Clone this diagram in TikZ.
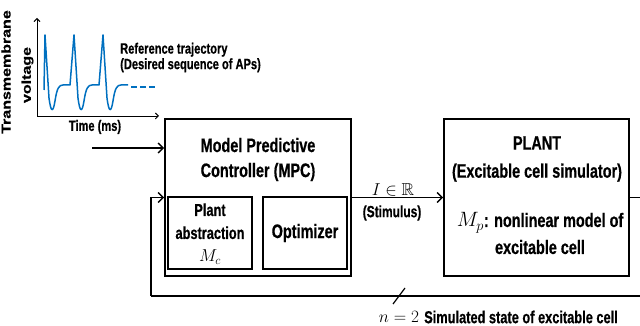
\documentclass[tikz,border=0pt]{standalone}
\usepackage{amsmath}
\usepackage{amssymb}
\usepackage{fontspec}
\setmainfont{Liberation Sans}[FakeStretch=0.74, BoldFeatures={FakeBold=0.6}]
\newfontfamily\axisfont{Liberation Sans}[BoldFeatures={FakeBold=0.6}]
\usetikzlibrary{arrows.meta}

\definecolor{trajblue}{RGB}{0,112,192}

\tikzset{
    blockbox/.style = {draw, line width=1.6pt, inner sep=0pt},
    conn/.style = {line width=1.5pt, -{Straight Barb[length=5pt,width=10pt,line width=1.4pt]}},
    fbline/.style = {line width=1.5pt},
    axisline/.style = {line width=0.9pt, -{Straight Barb[length=3pt,width=6pt,line width=0.9pt]}},
    wave/.style = {trajblue, line width=1.5pt, line join=round},
    lbl/.style = {inner sep=0pt, align=center, font=\fontsize{#1}{#1}\selectfont\bfseries},
    lbl/.default = 17.3
}

\begin{document}
\begin{tikzpicture}[x=1pt, y=1pt]
    \path[use as bounding box] (0,0) rectangle (640,326);
    \clip (0,0) rectangle (640,326);

    % reference trajectory plot
    \coordinate (origin) at (37,210);
    \draw[axisline] (origin) -- (37,308);
    \draw[axisline] (origin) -- (159,210);
    \draw[wave] (44,236) foreach \s in {44,73,102} {
            -- (\s+1,291) -- (\s+5,228)
            .. controls (\s+7,213) and (\s+9,213) .. (\s+11,225)
            .. controls (\s+13,238) and (\s+15,241) .. (\s+19,241)
            -- (\s+26,241)};
    \draw[wave, dash pattern=on 6pt off 3pt] (131,239) -- (157,239);
    \node[rotate=90, inner sep=0pt] (ylabA) at (6,254)
        {\scalebox{1}[0.8]{\axisfont\bfseries\fontsize{16}{16}\selectfont Transmembrane}};
    \node[rotate=90, inner sep=0pt] (ylabB) at (27.5,251)
        {\scalebox{1}[0.8]{\axisfont\bfseries\fontsize{16}{16}\selectfont voltage}};
    \node[lbl=15] (xlab) at (95,199) {Time (ms)};
    \node[lbl=15, anchor=west, font=\fontsize{15}{15.5}\selectfont\bfseries, align=left] (reftxt) at (120,268.5)
        {Reference trajectory\\(Desired sequence of APs)};

    % controller
    \node[blockbox, minimum width=186pt, minimum height=157pt] (mpc) at (258,128.5) {};
    \node[lbl=19.5, font=\fontsize{19.5}{25}\selectfont\bfseries] (mpctxt) at (258,166.5)
        {Model Predictive\\Controller (MPC)};
    \node[blockbox, minimum width=84pt, minimum height=72pt] (abst) at (210,93) {};
    \node[lbl, font=\fontsize{17.3}{23}\selectfont\bfseries] (absttxt) at (210,92)
        {Plant\\abstraction\\$M_c$};
    \node[blockbox, minimum width=84pt, minimum height=72pt] (opt) at (305,93) {};
    \node[lbl=19.5] (opttxt) at (305,93) {Optimizer};

    % plant
    \node[blockbox, minimum width=185pt, minimum height=157pt] (plant) at (536.5,128.5) {};
    \node[lbl=19.5, font=\fontsize{19.5}{28}\selectfont\bfseries] (planttxt) at (537,167)
        {PLANT\\(Excitable cell simulator)};
    \node[lbl=19.5, font=\fontsize{19.5}{27}\selectfont\bfseries] (modeltxt) at (540,92.5)
        {$M_p$: nonlinear model of\\excitable cell};

    % signals
    \coordinate (refin) at (92,178);
    \draw[conn] (refin) -- (refin -| mpc.west);
    \draw[conn] (mpc.east) -- (plant.west);
    \node[lbl] (stim) at (393,136) {$I \in \mathbb{R}$};
    \node[lbl=16.2] (stimtxt) at (392,113) {(Stimulus)};

    % state feedback
    \coordinate (fbright) at (660,30);
    \coordinate (fbleft) at (151,30);
    \coordinate (bus) at (399,30);
    \draw[fbline] (plant.east) -| (fbright) -- (fbleft);
    \draw[conn] (fbleft) |- (mpc.west);
    \draw[line width=1.2pt] ([shift={(-6,-8)}]bus) -- ([shift={(6,8)}]bus);
    \node[lbl] (ntxt) at (399,9) {$n = 2$};
    \node[lbl] (statetxt) at (521,9) {Simulated state of excitable cell};
\end{tikzpicture}
\end{document}
